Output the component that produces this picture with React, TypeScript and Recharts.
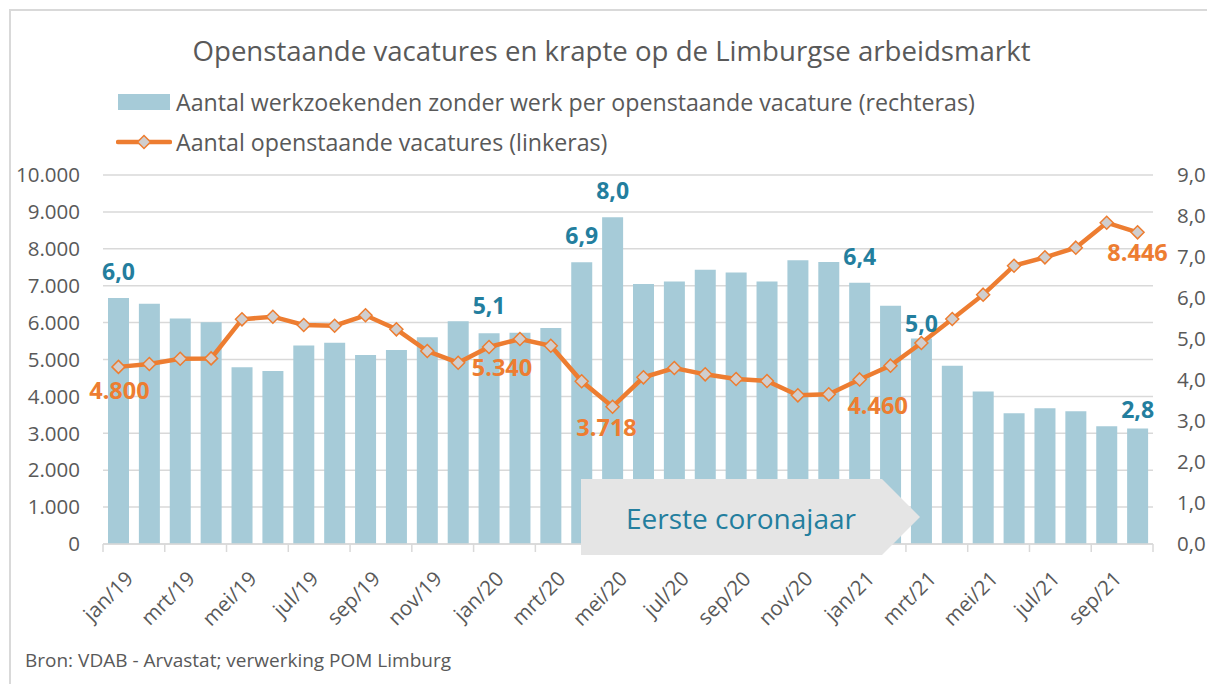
import React from "react";
import {
  ComposedChart,
  Bar,
  Line,
  XAxis,
  YAxis,
  CartesianGrid,
  Legend,
} from "recharts";

const months = [
  "jan/19", "feb/19", "mrt/19", "apr/19", "mei/19", "jun/19", "jul/19", "aug/19", "sep/19", "okt/19", "nov/19", "dec/19",
  "jan/20", "feb/20", "mrt/20", "apr/20", "mei/20", "jun/20", "jul/20", "aug/20", "sep/20", "okt/20", "nov/20", "dec/20",
  "jan/21", "feb/21", "mrt/21", "apr/21", "mei/21", "jun/21", "jul/21", "aug/21", "sep/21", "okt/21",
];

// werkzoekenden zonder werk per openstaande vacature (rechteras)
const ratio = [
  6.0, 5.86, 5.5, 5.41, 4.31, 4.22, 4.84, 4.91, 4.61, 4.73, 5.04, 5.43,
  5.14, 5.15, 5.27, 6.87, 7.97, 6.34, 6.4, 6.69, 6.62, 6.4, 6.92, 6.88,
  6.37, 5.81, 5.01, 4.35, 3.72, 3.19, 3.31, 3.24, 2.87, 2.82,
];

// openstaande vacatures (linkeras)
const vacatures = [
  4800, 4878, 5022, 5030, 6089, 6160, 5935, 5916, 6198, 5818, 5230, 4913,
  5340, 5556, 5374, 4409, 3718, 4517, 4770, 4598, 4472, 4417, 4029, 4056,
  4460, 4833, 5447, 6098, 6757, 7542, 7769, 8031, 8707, 8446,
];

const leftTicks = [0, 1000, 2000, 3000, 4000, 5000, 6000, 7000, 8000, 9000, 10000];
const rightTicks = [0, 1, 2, 3, 4, 5, 6, 7, 8, 9];

const barLabelIdx = [0, 12, 15, 16, 24, 26, 33];
const lineLabelIdx = [0, 12, 16, 24, 33];

const data = months.map((m, i) => ({ month: m, ratio: ratio[i], vacatures: vacatures[i] }));

const FONT = "'Open Sans', Lato, sans-serif";
const GREY = "#595959";
const BLUE = "#a6cbd8";
const TEAL = "#237e9e";
const ORANGE = "#ed7d31";
const GRID = "#d9d9d9";

const PLOT_W = 1050;
const BAND = PLOT_W / months.length;

const fmtThousands = (v: number) => String(Math.round(v)).replace(/\B(?=(\d{3})+(?!\d))/g, ".");
const fmtDecimal = (v: number) => v.toFixed(1).replace(".", ",");

// offsets of the value labels (label placement only)
const barLabelGap: Record<number, number> = { 0: 27, 12: 28, 15: 27, 16: 27, 24: 27, 26: 16, 33: 19 };
const lineLabelShift: Record<number, [number, number]> = {
  0: [1, 23],
  12: [13, 20],
  16: [-6, 20],
  24: [18, 26],
  33: [0, 20],
};

const XTick = (props: any) => {
  const { x, y, payload } = props;
  const last = payload.value === months[months.length - 2];
  const ax = x + 11;
  const ay = y + 31;
  return (
    <g>
      <line x1={x - BAND / 2} x2={x - BAND / 2} y1={y} y2={y + 8} stroke={GRID} strokeWidth={1.5} />
      {last && <line x1={x + BAND * 1.5} x2={x + BAND * 1.5} y1={y} y2={y + 8} stroke={GRID} strokeWidth={1.5} />}
      <text
        x={ax}
        y={ay}
        transform={`rotate(-45 ${ax} ${ay})`}
        textAnchor="end"
        dy="0.35em"
        fill={GREY}
        fontSize={20.5}
        fontFamily={FONT}
      >
        {payload.value}
      </text>
    </g>
  );
};

const Diamond = (props: any) => {
  const { cx, cy } = props;
  if (cx == null || cy == null) return null;
  const r = 6.5;
  return (
    <polygon
      points={`${cx},${cy - r} ${cx + r},${cy} ${cx},${cy + r} ${cx - r},${cy}`}
      fill="#d0cece"
      stroke={ORANGE}
      strokeWidth={1.5}
    />
  );
};

const renderBarLabel = (props: any) => {
  const { x, y, width, value, index } = props;
  if (!barLabelIdx.includes(index)) return null;
  return (
    <text
      key={`bl-${index}`}
      x={x + width / 2}
      y={y - barLabelGap[index]}
      textAnchor="middle"
      dominantBaseline="central"
      fill={TEAL}
      fontSize={23}
      fontWeight={700}
      fontFamily={FONT}
    >
      {fmtDecimal(value)}
    </text>
  );
};

const renderLineLabel = (props: any) => {
  const { x, y, value, index } = props;
  if (!lineLabelIdx.includes(index)) return null;
  const [dx, dy] = lineLabelShift[index];
  return (
    <text
      key={`ll-${index}`}
      x={x + dx}
      y={y + dy}
      textAnchor="middle"
      dominantBaseline="central"
      fill={ORANGE}
      fontSize={23.5}
      fontWeight={700}
      fontFamily={FONT}
    >
      {fmtThousands(value)}
    </text>
  );
};

const LegendContent = () => (
  <div style={{ position: "relative", height: 80, fontFamily: FONT, fontSize: 23.2, color: GREY }}>
    <div style={{ position: "absolute", left: 110, top: 0, height: 36, display: "flex", alignItems: "center", whiteSpace: "nowrap" }}>
      <span style={{ display: "inline-block", width: 52, height: 16, background: BLUE, marginRight: 6 }} />
      Aantal werkzoekenden zonder werk per openstaande vacature (rechteras)
    </div>
    <div style={{ position: "absolute", left: 108, top: 40, height: 36, display: "flex", alignItems: "center", whiteSpace: "nowrap" }}>
      <svg width={56} height={20} style={{ marginRight: 4 }}>
        <line x1={2} x2={54} y1={10} y2={10} stroke={ORANGE} strokeWidth={4.5} strokeLinecap="round" />
        <polygon points="28,3.5 34.5,10 28,16.5 21.5,10" fill="#d0cece" stroke={ORANGE} strokeWidth={1.5} />
      </svg>
      Aantal openstaande vacatures (linkeras)
    </div>
  </div>
);

export default function App() {
  return (
    <div style={{ position: "relative", width: 1207, height: 676, overflow: "hidden", fontFamily: FONT, background: "#fff" }}>
      <div
        style={{
          position: "absolute",
          left: 1,
          top: 1,
          width: 1300,
          height: 800,
          borderLeft: `2px solid ${GRID}`,
          borderTop: `2px solid ${GRID}`,
        }}
      />
      <div
        style={{
          position: "absolute",
          left: 0,
          top: 28,
          width: 1207,
          textAlign: "center",
          fontSize: 27.6,
          lineHeight: "28px",
          color: GREY,
          whiteSpace: "nowrap",
        }}
      >
        Openstaande vacatures en krapte op de Limburgse arbeidsmarkt
      </div>

      <div style={{ position: "absolute", left: 0, top: 0 }}>
        <ComposedChart width={1207} height={630} data={data} margin={{ top: 87, right: 0, bottom: 0, left: 0 }}>
          <Legend
            verticalAlign="top"
            align="left"
            layout="horizontal"
            content={<LegendContent />}
            wrapperStyle={{ top: 76, left: 0, width: 1207, height: 80 }}
          />
          <CartesianGrid yAxisId="left" vertical={false} stroke={GRID} strokeWidth={1.5} />
          <XAxis
            dataKey="month"
            interval={1}
            height={94}
            tickSize={0}
            tickMargin={0}
            tickLine={false}
            axisLine={{ stroke: GRID, strokeWidth: 1.5 }}
            tick={<XTick />}
          />
          <YAxis
            yAxisId="left"
            width={95}
            domain={[0, 10000]}
            ticks={leftTicks}
            tickFormatter={fmtThousands}
            axisLine={false}
            tickLine={false}
            tickSize={0}
            tickMargin={23}
            tick={{ fill: GREY, fontSize: 20.5, fontFamily: FONT }}
          />
          <YAxis
            yAxisId="right"
            orientation="right"
            width={62}
            domain={[0, 9]}
            ticks={rightTicks}
            tickFormatter={fmtDecimal}
            axisLine={false}
            tickLine={false}
            tickSize={0}
            tickMargin={24}
            tick={{ fill: GREY, fontSize: 20.5, fontFamily: FONT, textAnchor: "start" }}
          />
          <Bar
            yAxisId="right"
            dataKey="ratio"
            fill={BLUE}
            barSize={21}
            isAnimationActive={false}
            label={renderBarLabel}
          />
          <Line
            yAxisId="left"
            dataKey="vacatures"
            stroke={ORANGE}
            strokeWidth={4.5}
            dot={<Diamond />}
            activeDot={false}
            isAnimationActive={false}
            label={renderLineLabel}
          />
        </ComposedChart>
      </div>

      <svg style={{ position: "absolute", left: 0, top: 0 }} width={1207} height={676} pointerEvents="none">
        <polygon points="573,471 874,471 912,509 874,547 573,547" fill="#e5e5e5" />
        <text x={733} y={510} textAnchor="middle" dominantBaseline="central" fill={TEAL} fontSize={28} fontFamily={FONT}>
          Eerste coronajaar
        </text>
      </svg>

      <div style={{ position: "absolute", left: 17, top: 642, fontSize: 19, lineHeight: "20px", color: GREY, whiteSpace: "nowrap" }}>
        Bron: VDAB - Arvastat; verwerking POM Limburg
      </div>
    </div>
  );
}
